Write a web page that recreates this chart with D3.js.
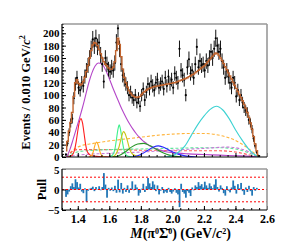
<!DOCTYPE html>
<html><head><meta charset="utf-8">
<script src="https://cdn.jsdelivr.net/npm/d3@7"></script>
<style>
body{margin:0;background:#fff;}
svg{display:block;}
text{font-family:"Liberation Serif","Times New Roman",serif;font-weight:bold;fill:#000;}
</style>
</head><body>
<svg id="c" width="284" height="242"></svg>
<script>
// ---------------- DATA ----------------
const mass = [1.325,1.335,1.345,1.355,1.365,1.375,1.385,1.395,1.405,1.415,1.425,1.435,1.445,1.455,1.465,1.475,1.485,1.495,1.505,1.515,1.525,1.535,1.545,1.555,1.565,1.575,1.585,1.595,1.605,1.615,1.625,1.635,1.645,1.655,1.665,1.675,1.685,1.695,1.705,1.715,1.725,1.735,1.745,1.755,1.765,1.775,1.785,1.795,1.805,1.815,1.825,1.835,1.845,1.855,1.865,1.875,1.885,1.895,1.905,1.915,1.925,1.935,1.945,1.955,1.965,1.975,1.985,1.995,2.005,2.015,2.025,2.035,2.045,2.055,2.065,2.075,2.085,2.095,2.105,2.115,2.125,2.135,2.145,2.155,2.165,2.175,2.185,2.195,2.205,2.215,2.225,2.235,2.245,2.255,2.265,2.275,2.285,2.295,2.305,2.315,2.325,2.335,2.345,2.355,2.365,2.375,2.385,2.395,2.405,2.415,2.425,2.435,2.445,2.455,2.465,2.475,2.485,2.495,2.505,2.515,2.525,2.535,2.545];
const events = [4,22,40,55,62,95,118,128,112,108,120,115,130,140,148,160,175,190,180,192,178,185,165,150,122,160,150,142,138,145,140,152,185,208,175,150,132,125,118,112,100,105,96,92,100,88,95,82,100,110,92,105,118,110,122,115,108,120,125,112,118,122,110,128,115,130,118,125,112,135,128,120,175,140,132,125,100,145,158,135,140,128,150,178,145,155,148,150,140,155,148,160,170,160,175,192,180,170,175,155,145,128,140,130,120,112,128,120,98,108,92,100,88,80,75,72,60,55,45,30,18,8,2];
const fitTotal = [10,25,42,56,72,98,120,125,119,116,118,122,129,138,148,160,172,181,185,184,180,174,167,160,154,150,147,144,142,142,145,154,172,192,182,162,142,129,120,113,107,103,100,98,97,96,97,98,101,104,106,108,110,111,112,113,114,114,115,115,116,116,117,117,118,118,119,119,120,120,121,122,123,124,125,126,127,128,130,131,133,134,136,138,140,142,144,146,148,151,154,157,160,163,166,168,167,164,160,156,151,146,141,136,131,126,121,116,111,106,101,96,91,85,79,72,64,55,45,33,21,10,3];
const pull = [-1.8,-1.2,-0.5,0.8,1.5,0.6,2.5,1.8,0.5,1.4,-0.5,-0.9,0.3,-3.0,-0.3,0.2,0.4,0.7,-0.4,0.6,0.1,0.8,-0.2,0.6,4.0,1.2,-2.0,0.4,-0.3,0.5,-0.4,0.9,-0.8,2.4,-0.7,1.6,-1.0,0.4,-0.6,1.0,-0.8,0.3,2.0,-0.2,1.2,0.5,-1.5,-0.8,0.2,1.4,-0.6,0.8,2.8,1.5,0.6,2.0,1.2,-0.4,1.0,-1.2,-0.3,0.6,-0.9,-0.5,-0.8,0.4,-0.6,-1.0,-0.5,0.3,-0.8,-1.2,-4.3,1.4,-0.6,-1.0,-2.0,-0.4,-0.8,-1.6,0.5,-0.2,1.0,0.6,1.8,0.9,1.3,0.5,1.9,1.0,0.4,1.5,0.8,0.3,1.2,2.5,0.6,-0.5,1.0,0.4,-0.9,-1.5,0.8,-0.3,-0.7,0.5,2.2,0.9,-1.0,1.3,0.3,1.6,-0.4,-1.3,0.5,-0.6,0.9,-0.4,-1.5,0.6,-0.3,0.4,0];

const redMass = [1.33,1.36,1.38,1.39,1.40,1.41,1.42,1.43,1.44,1.45,1.46,1.48,1.52,1.60];
const redYield = [0,2,12,25,42,57,62,55,38,20,9,3,1,0];
const orangeMass = [1.47,1.49,1.50,1.51,1.52,1.53,1.54,1.55,1.57];
const orangeYield = [0,3,10,20,24,19,9,3,0];
const magentaMass = [1.33,1.35,1.37,1.39,1.41,1.43,1.45,1.47,1.49,1.51,1.53,1.55,1.57,1.59,1.61,1.63,1.65,1.67,1.69,1.71,1.73,1.75,1.77,1.79,1.81,1.83,1.85,1.87,1.89,1.91,1.95,2.00,2.10,2.20,2.30,2.40,2.50,2.54];
const magentaYield = [0,12,28,45,62,80,100,120,136,147,152,151,144,133,120,107,95,83,72,62,53,45,38,32,27,23,19,16,14,12,9,7,5,4,3,2,1,0];
const springMass = [1.60,1.62,1.635,1.645,1.655,1.663,1.67,1.68,1.69,1.70,1.72,1.75];
const springYield = [0,3,12,28,45,52,46,30,15,6,1,0];
const oliveMass = [1.62,1.64,1.66,1.675,1.69,1.70,1.715,1.73,1.75,1.78,1.80];
const oliveYield = [0,4,15,30,41,38,26,12,4,1,0];
const greenMass = [1.62,1.66,1.70,1.74,1.78,1.82,1.86,1.90,1.94,1.98,2.02,2.06];
const greenYield = [0,2,8,16,21,22,18,12,7,3,1,0];
const blueMass = [1.75,1.80,1.84,1.88,1.91,1.94,1.98,2.02,2.06,2.10,2.15];
const blueYield = [0,4,10,16,18,16,11,6,3,1,0];
const cyanMass = [1.95,2.00,2.04,2.08,2.12,2.16,2.20,2.24,2.28,2.32,2.36,2.40,2.44,2.48,2.51,2.54];
const cyanYield = [0,2,8,18,35,52,66,77,82,76,62,44,28,14,6,1];
const orangeDashMass = [1.33,1.35,1.38,1.42,1.50,1.60,1.70,1.80,1.90,2.00,2.10,2.20,2.30,2.38,2.44,2.48,2.52,2.55];
const orangeDashYield = [0,6,13,18,22,26,29,32,35,37,38,38,35,29,21,14,6,0];
const redDashMass = [1.33,1.36,1.40,1.50,1.60,1.70,1.80,1.90,2.00,2.10,2.20,2.30,2.40,2.46,2.52,2.54];
const redDashYield = [0,8,12,12,12,12,11,11,10,10,10,10,8,5,1,0];
const greenDashMass = [1.33,1.37,1.45,1.60,1.80,2.00,2.20,2.30,2.40,2.46,2.50,2.54];
const greenDashYield = [0,6,10,12,13,14,15,15,13,9,5,0];
const violetDashMass = [1.33,1.40,1.60,1.80,2.00,2.20,2.35,2.42,2.48,2.53];
const violetDashYield = [0,3,6,8,11,14,16,14,9,2];

const xTicks = [1.4,1.6,1.8,2.0,2.2,2.4,2.6];
const yTicks = [0,20,40,60,80,100,120,140,160,180,200];
const pullTicks = [-5,0,5];
const pullLines = [-3,0,3];

// ---------------- DRAW ----------------
const svg = d3.select('#c');
const L = 62, R = 267, mTop = 24, mBot = 157, pTop = 169, pBot = 210;
const x = d3.scaleLinear().domain([1.3, 2.6]).range([L, R]);
const y = d3.scaleLinear().domain([0, 215]).range([mBot, mTop]);
const yp = d3.scaleLinear().domain([-5, 5]).range([pBot, pTop]);

svg.append('rect').attr('width',284).attr('height',242).attr('fill','#fff');
svg.append('clipPath').attr('id','clipM').append('rect')
  .attr('x',L).attr('y',mTop).attr('width',R-L).attr('height',mBot-mTop);
svg.append('clipPath').attr('id','clipP').append('rect')
  .attr('x',L).attr('y',pTop).attr('width',R-L).attr('height',pBot-pTop);

const gM = svg.append('g').attr('clip-path','url(#clipM)');

const comps = [
  {m: orangeDashMass, v: orangeDashYield, c: '#ffb43c', d: '3,2'},
  {m: redDashMass, v: redDashYield, c: '#ff5a5a', d: '3,2'},
  {m: greenDashMass, v: greenDashYield, c: '#5ee69a', d: '3,2'},
  {m: violetDashMass, v: violetDashYield, c: '#c878d8', d: '3,2'},
  {m: redMass, v: redYield, c: '#ff1e1e'},
  {m: orangeMass, v: orangeYield, c: '#ffaa1e'},
  {m: magentaMass, v: magentaYield, c: '#b446c8'},
  {m: springMass, v: springYield, c: '#3cf08c'},
  {m: oliveMass, v: oliveYield, c: '#c8c314'},
  {m: greenMass, v: greenYield, c: '#2a962a'},
  {m: blueMass, v: blueYield, c: '#2828ff'},
  {m: cyanMass, v: cyanYield, c: '#3cd2d2'}
];
const line = d3.line().x(d => x(d[0])).y(d => y(d[1])).curve(d3.curveMonotoneX);
comps.forEach(cp => {
  gM.append('path').attr('d', line(d3.zip(cp.m, cp.v)))
    .attr('fill','none').attr('stroke',cp.c).attr('stroke-width',1.1)
    .attr('stroke-dasharray', cp.d || null);
});

// data error bars
const dataPts = d3.zip(mass, events);
gM.selectAll('line.err').data(dataPts).join('line')
  .attr('x1', d => x(d[0])).attr('x2', d => x(d[0]))
  .attr('y1', d => y(d[1] - Math.sqrt(d[1]))).attr('y2', d => y(d[1] + Math.sqrt(d[1])))
  .attr('stroke','#111').attr('stroke-width',1);
gM.selectAll('circle.pt').data(dataPts).join('circle')
  .attr('cx', d => x(d[0])).attr('cy', d => y(d[1])).attr('r',1.1).attr('fill','#000');

// total fit
const fitLine = d3.line().x(d => x(d[0])).y(d => y(d[1])).curve(d3.curveStep);
gM.append('path').attr('d', fitLine(d3.zip(mass, fitTotal)))
  .attr('fill','none').attr('stroke','#c0632d').attr('stroke-width',1.4);

// axes helpers
function styleAxis(g, fs){
  g.select('.domain').remove();
  g.selectAll('line').attr('stroke','#000');
  if (!fs) g.selectAll('text').remove();
  else g.selectAll('text').attr('font-size',fs).attr('font-family','Liberation Serif').attr('font-weight','bold');
  return g;
}
styleAxis(svg.append('g').attr('transform',`translate(${L},0)`)
  .call(d3.axisLeft(y).tickValues(yTicks).tickSize(-4).tickPadding(2.5).tickFormat(d3.format('d'))), 11);
styleAxis(svg.append('g').attr('transform',`translate(${L},0)`)
  .call(d3.axisLeft(y).tickValues(d3.range(0,216,5)).tickSize(-2)), 0);
styleAxis(svg.append('g').attr('transform',`translate(0,${mBot})`)
  .call(d3.axisBottom(x).tickValues(xTicks).tickSize(-4)), 0);
styleAxis(svg.append('g').attr('transform',`translate(0,${mBot})`)
  .call(d3.axisBottom(x).tickValues(d3.range(1.3,2.6001,0.05)).tickSize(-2)), 0);

// main frame
svg.append('line').attr('x1',L).attr('x2',R).attr('y1',mTop).attr('y2',mTop).attr('stroke','#999').attr('stroke-width',1.6);
svg.append('line').attr('x1',R).attr('x2',R).attr('y1',mTop).attr('y2',mBot).attr('stroke','#999').attr('stroke-width',1.6);
svg.append('line').attr('x1',L).attr('x2',L).attr('y1',mTop).attr('y2',mBot).attr('stroke','#000').attr('stroke-width',1.2);
svg.append('line').attr('x1',L).attr('x2',R).attr('y1',mBot).attr('y2',mBot).attr('stroke','#000').attr('stroke-width',1.2);

// pull panel
const gP = svg.append('g').attr('clip-path','url(#clipP)');
const bw = x(1.335) - x(1.325);
gP.selectAll('rect.pull').data(d3.zip(mass, pull)).join('rect')
  .attr('x', d => x(d[0]) - bw/2).attr('width', bw + 0.2)
  .attr('y', d => Math.min(yp(d[1]), yp(0))).attr('height', d => Math.abs(yp(d[1]) - yp(0)))
  .attr('fill','#2176b6');
gP.selectAll('line.pl').data(pullLines).join('line')
  .attr('x1',L).attr('x2',R).attr('y1', d => yp(d)).attr('y2', d => yp(d))
  .attr('stroke','#ff0000').attr('stroke-width',1).attr('stroke-dasharray','2,2');

const gpy = styleAxis(svg.append('g').attr('transform',`translate(${L},0)`)
  .call(d3.axisLeft(yp).tickValues(pullTicks).tickSize(-4).tickPadding(2.5).tickFormat(d => d < 0 ? '\u2212' + Math.abs(d) : d)), 11);
gpy.selectAll('text').filter(d => d === 5).attr('dy','0.45em');
styleAxis(svg.append('g').attr('transform',`translate(0,${pBot})`)
  .call(d3.axisBottom(x).tickValues(xTicks).tickSize(-4).tickPadding(4).tickFormat(d3.format('.1f'))), 12);
styleAxis(svg.append('g').attr('transform',`translate(0,${pBot})`)
  .call(d3.axisBottom(x).tickValues(d3.range(1.3,2.6001,0.05)).tickSize(-2)), 0);

svg.append('line').attr('x1',L).attr('x2',R).attr('y1',pTop).attr('y2',pTop).attr('stroke','#999').attr('stroke-width',1.6);
svg.append('line').attr('x1',R).attr('x2',R).attr('y1',pTop).attr('y2',pBot).attr('stroke','#999').attr('stroke-width',1.6);
svg.append('line').attr('x1',L).attr('x2',L).attr('y1',pTop).attr('y2',pBot).attr('stroke','#000').attr('stroke-width',1.2);
svg.append('line').attr('x1',L).attr('x2',R).attr('y1',pBot).attr('y2',pBot).attr('stroke','#000').attr('stroke-width',1.2);

// titles
const yt = svg.append('text').attr('transform','translate(29.5,92.5) rotate(-90)')
  .attr('text-anchor','middle').attr('font-size',12.5);
yt.append('tspan').text('Events / 0.010 GeV/');
yt.append('tspan').attr('font-style','italic').text('c');
yt.append('tspan').attr('font-size',8).attr('dy',-5).text('2');

svg.append('text').attr('transform','translate(46,189.5) rotate(-90)')
  .attr('text-anchor','middle').attr('font-size',12.5).text('Pull');

const xt = svg.append('text').attr('x',231).attr('y',238).attr('text-anchor','end').attr('font-size',14);
xt.append('tspan').attr('font-style','italic').text('M');
xt.append('tspan').text('(\u03C0');
xt.append('tspan').attr('font-size',8).attr('dy',-4.5).text('0');
xt.append('tspan').attr('dy',4.5).text('\u03A3\u0304');
xt.append('tspan').attr('font-size',8).attr('dy',-4.5).text('0');
xt.append('tspan').attr('dy',4.5).text(') (GeV/');
xt.append('tspan').attr('font-style','italic').text('c');
xt.append('tspan').attr('font-size',8).attr('dy',-4.5).text('2');
xt.append('tspan').attr('dy',4.5).text(')');
</script>
</body></html>
